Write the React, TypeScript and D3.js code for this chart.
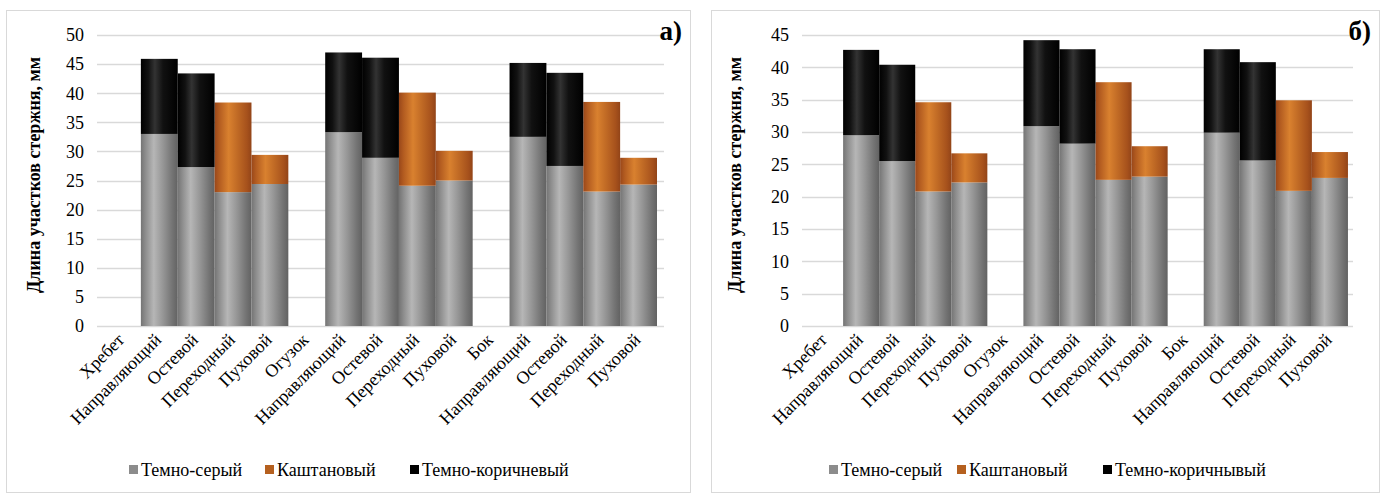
import React from "react";
import * as d3 from "d3";

const categories = [
  "Хребет", "Направляющий", "Остевой", "Переходный", "Пуховой",
  "Огузок", "Направляющий", "Остевой", "Переходный", "Пуховой",
  "Бок", "Направляющий", "Остевой", "Переходный", "Пуховой",
];

const seriesNames = ["Темно-серый", "Каштановый"];
const blackNameA = "Темно-коричневый";
const blackNameB = "Темно-коричнывый";

// Chart а)
const grayA = [0, 33.0, 27.3, 23.0, 24.4, 0, 33.3, 28.9, 24.1, 25.0, 0, 32.5, 27.5, 23.1, 24.3];
const chestnutA = [0, 0, 0, 15.4, 5.0, 0, 0, 0, 16.0, 5.1, 0, 0, 0, 15.4, 4.6];
const brownA = [0, 12.9, 16.1, 0, 0, 0, 13.7, 17.2, 0, 0, 0, 12.7, 16.0, 0, 0];
const ticksA = [0, 5, 10, 15, 20, 25, 30, 35, 40, 45, 50];

// Chart б)
const grayB = [0, 29.5, 25.5, 20.8, 22.2, 0, 30.9, 28.2, 22.6, 23.1, 0, 29.9, 25.6, 20.9, 22.9];
const chestnutB = [0, 0, 0, 13.8, 4.5, 0, 0, 0, 15.1, 4.7, 0, 0, 0, 14.0, 4.0];
const brownB = [0, 13.2, 14.9, 0, 0, 0, 13.3, 14.6, 0, 0, 0, 12.9, 15.2, 0, 0];
const ticksB = [0, 5, 10, 15, 20, 25, 30, 35, 40, 45];

const yTitle = "Длина участков стержня, мм";

const FONT = "Liberation Serif";

type ChartProps = {
  id: string;
  frameX: number;
  frameW: number;
  gridX0: number;
  gridX1: number;
  outerPad: number;
  ticks: number[];
  gray: number[];
  chestnut: number[];
  brown: number[];
  brownName: string;
  tag: string;
  titleX: number;
  legendX: number[];
};

function Chart(p: ChartProps) {
  const yTop = 35;
  const yBot = 326;
  const x = d3
    .scaleBand<number>()
    .domain(categories.map((_, i) => i))
    .range([p.gridX0, p.gridX1])
    .paddingInner(0)
    .paddingOuter(p.outerPad);
  const y = d3
    .scaleLinear()
    .domain([0, p.ticks[p.ticks.length - 1]])
    .range([yBot, yTop]);

  const rows = categories.map((c, i) => ({
    i,
    gray: p.gray[i],
    chestnut: p.chestnut[i],
    brown: p.brown[i],
  }));
  const stack = d3.stack<any>().keys(["gray", "chestnut", "brown"]);
  const stacked = stack(rows);
  const fills = [`url(#${p.id}-g)`, `url(#${p.id}-o)`, `url(#${p.id}-k)`];
  const legendColors = ["#8c8c8c", "#b5601f", "#000000"];
  const legendNames = [seriesNames[0], seriesNames[1], p.brownName];
  const txt = { fontFamily: FONT };

  return (
    <g>
      <defs>
        <linearGradient id={`${p.id}-g`} x1="0" x2="1" y1="0" y2="0">
          <stop offset="0" stopColor="#747474" />
          <stop offset="0.12" stopColor="#8c8c8c" />
          <stop offset="0.35" stopColor="#b6b6b6" />
          <stop offset="0.6" stopColor="#969696" />
          <stop offset="0.85" stopColor="#747474" />
          <stop offset="1" stopColor="#626262" />
        </linearGradient>
        <linearGradient id={`${p.id}-o`} x1="0" x2="1" y1="0" y2="0">
          <stop offset="0" stopColor="#99471a" />
          <stop offset="0.12" stopColor="#b25b20" />
          <stop offset="0.38" stopColor="#d9812f" />
          <stop offset="0.62" stopColor="#c06a25" />
          <stop offset="0.88" stopColor="#a6511c" />
          <stop offset="1" stopColor="#924418" />
        </linearGradient>
        <linearGradient id={`${p.id}-k`} x1="0" x2="1" y1="0" y2="0">
          <stop offset="0" stopColor="#000000" />
          <stop offset="0.2" stopColor="#111111" />
          <stop offset="0.38" stopColor="#333333" />
          <stop offset="0.6" stopColor="#111111" />
          <stop offset="1" stopColor="#000000" />
        </linearGradient>
      </defs>
      <rect
        x={p.frameX + 0.5}
        y={10.5}
        width={p.frameW}
        height={482}
        fill="#ffffff"
        stroke="#d9d9d9"
        strokeWidth={1}
      />
      {p.ticks.map((t) => (
        <g key={t}>
          <line
            x1={p.gridX0}
            x2={p.gridX1}
            y1={Math.round(y(t)) + 0.5}
            y2={Math.round(y(t)) + 0.5}
            stroke="#d9d9d9"
            strokeWidth={1.5}
          />
          <text
            x={p.gridX0 - 13}
            y={y(t)}
            dy="0.35em"
            textAnchor="end"
            style={txt}
            fontSize={18}
            fill="#000"
          >
            {t}
          </text>
        </g>
      ))}
      {stacked.map((layer, li) =>
        layer.map((d, i) =>
          d[1] - d[0] > 0 ? (
            <rect
              key={`${li}-${i}`}
              x={x(i)!}
              y={y(d[1])}
              width={x.bandwidth()}
              height={y(d[0]) - y(d[1])}
              fill={fills[li]}
            />
          ) : null
        )
      )}
      {categories.map((c, i) => {
        const cx = x(i)! + x.bandwidth() / 2 + 3;
        const cy = 341;
        return (
          <text
            key={i}
            transform={`translate(${cx},${cy}) rotate(-45)`}
            textAnchor="end"
            style={txt}
            fontSize={18}
            fill="#000"
          >
            {c}
          </text>
        );
      })}
      <text
        transform={`translate(${p.titleX},175) rotate(-90)`}
        textAnchor="middle"
        style={txt}
        fontWeight="bold"
        fontSize={18}
        fill="#000"
      >
        {yTitle}
      </text>
      <text
        x={p.frameX + p.frameW - 8}
        y={40}
        textAnchor="end"
        style={txt}
        fontWeight="bold"
        fontSize={27}
        fill="#000"
      >
        {p.tag}
      </text>
      {legendNames.map((n, i) => (
        <g key={n}>
          <rect x={p.legendX[i]} y={465} width={9} height={9} fill={legendColors[i]} />
          <text
            x={p.legendX[i] + 12}
            y={476}
            style={txt}
            fontSize={18}
            fill="#000"
          >
            {n}
          </text>
        </g>
      ))}
    </g>
  );
}

export default function App() {
  return (
    <svg
      width={1389}
      height={496}
      style={{ position: "absolute", left: 0, top: 0, background: "#fff" }}
    >
      <rect x={0} y={0} width={1389} height={496} fill="#fff" />
      <Chart
        id="a"
        frameX={6}
        frameW={684}
        gridX0={97}
        gridX1={664}
        outerPad={0.19}
        ticks={ticksA}
        gray={grayA}
        chestnut={chestnutA}
        brown={brownA}
        brownName={blackNameA}
        tag="а)"
        titleX={40}
        legendX={[129, 265, 410]}
      />
      <Chart
        id="b"
        frameX={711}
        frameW={668}
        gridX0={802}
        gridX1={1353}
        outerPad={0.14}
        ticks={ticksB}
        gray={grayB}
        chestnut={chestnutB}
        brown={brownB}
        brownName={blackNameB}
        tag="б)"
        titleX={741}
        legendX={[829, 957, 1103]}
      />
    </svg>
  );
}
